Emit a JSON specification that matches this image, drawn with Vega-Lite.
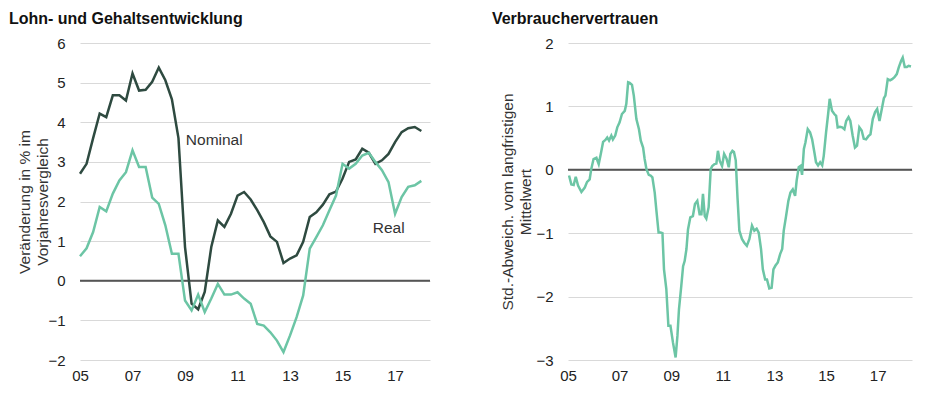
{
  "$schema": "https://vega.github.io/schema/vega-lite/v6.json",
  "padding": {"left": 8, "top": 11, "right": 0, "bottom": 0},
  "background": "white",
  "spacing": 60,
  "datasets": {
    "lohn": [
      {"t": 2005.00, "nominal": 2.7, "real": 0.62},
      {"t": 2005.25, "nominal": 2.95, "real": 0.82},
      {"t": 2005.50, "nominal": 3.6, "real": 1.23},
      {"t": 2005.75, "nominal": 4.22, "real": 1.86},
      {"t": 2006.00, "nominal": 4.13, "real": 1.75},
      {"t": 2006.25, "nominal": 4.68, "real": 2.2},
      {"t": 2006.50, "nominal": 4.68, "real": 2.53},
      {"t": 2006.75, "nominal": 4.55, "real": 2.74},
      {"t": 2007.00, "nominal": 5.23, "real": 3.29},
      {"t": 2007.25, "nominal": 4.8, "real": 2.87},
      {"t": 2007.50, "nominal": 4.82, "real": 2.87},
      {"t": 2007.75, "nominal": 5.02, "real": 2.1},
      {"t": 2008.00, "nominal": 5.38, "real": 1.94},
      {"t": 2008.25, "nominal": 5.06, "real": 1.4},
      {"t": 2008.50, "nominal": 4.58, "real": 0.68},
      {"t": 2008.75, "nominal": 3.6, "real": 0.68},
      {"t": 2009.00, "nominal": 0.85, "real": -0.5},
      {"t": 2009.25, "nominal": -0.58, "real": -0.75},
      {"t": 2009.50, "nominal": -0.72, "real": -0.35},
      {"t": 2009.75, "nominal": -0.28, "real": -0.79},
      {"t": 2010.00, "nominal": 0.85, "real": -0.45},
      {"t": 2010.25, "nominal": 1.52, "real": -0.08},
      {"t": 2010.50, "nominal": 1.36, "real": -0.35},
      {"t": 2010.75, "nominal": 1.69, "real": -0.35},
      {"t": 2011.00, "nominal": 2.15, "real": -0.29},
      {"t": 2011.25, "nominal": 2.24, "real": -0.45},
      {"t": 2011.50, "nominal": 2.05, "real": -0.58},
      {"t": 2011.75, "nominal": 1.78, "real": -1.09},
      {"t": 2012.00, "nominal": 1.48, "real": -1.13},
      {"t": 2012.25, "nominal": 1.12, "real": -1.3},
      {"t": 2012.50, "nominal": 0.98, "real": -1.51},
      {"t": 2012.75, "nominal": 0.45, "real": -1.8},
      {"t": 2013.00, "nominal": 0.56, "real": -1.38},
      {"t": 2013.25, "nominal": 0.64, "real": -0.92},
      {"t": 2013.50, "nominal": 0.98, "real": -0.37},
      {"t": 2013.75, "nominal": 1.61, "real": 0.81},
      {"t": 2014.00, "nominal": 1.73, "real": 1.1},
      {"t": 2014.25, "nominal": 1.92, "real": 1.4},
      {"t": 2014.50, "nominal": 2.18, "real": 1.78},
      {"t": 2014.75, "nominal": 2.25, "real": 2.15},
      {"t": 2015.00, "nominal": 2.58, "real": 2.95},
      {"t": 2015.25, "nominal": 3.0, "real": 2.83},
      {"t": 2015.50, "nominal": 3.06, "real": 2.95},
      {"t": 2015.75, "nominal": 3.33, "real": 3.16},
      {"t": 2016.00, "nominal": 3.23, "real": 3.23},
      {"t": 2016.25, "nominal": 2.95, "real": 3.0},
      {"t": 2016.50, "nominal": 3.04, "real": 2.79},
      {"t": 2016.75, "nominal": 3.2, "real": 2.49},
      {"t": 2017.00, "nominal": 3.5, "real": 1.69},
      {"t": 2017.25, "nominal": 3.75, "real": 2.11},
      {"t": 2017.50, "nominal": 3.85, "real": 2.37},
      {"t": 2017.75, "nominal": 3.88, "real": 2.41},
      {"t": 2018.00, "nominal": 3.78, "real": 2.52}
    ],
    "vertrauen": [
      {"t": 2005.04, "v": -0.09}, {"t": 2005.13, "v": -0.23}, {"t": 2005.22, "v": -0.24}, {"t": 2005.30, "v": -0.11},
      {"t": 2005.39, "v": -0.25}, {"t": 2005.52, "v": -0.35}, {"t": 2005.65, "v": -0.28}, {"t": 2005.74, "v": -0.19},
      {"t": 2005.84, "v": -0.15}, {"t": 2005.90, "v": 0.01}, {"t": 2005.99, "v": 0.17}, {"t": 2006.10, "v": 0.19},
      {"t": 2006.19, "v": 0.09}, {"t": 2006.27, "v": 0.25}, {"t": 2006.36, "v": 0.44}, {"t": 2006.45, "v": 0.47},
      {"t": 2006.52, "v": 0.51}, {"t": 2006.59, "v": 0.46}, {"t": 2006.68, "v": 0.54}, {"t": 2006.74, "v": 0.48},
      {"t": 2006.83, "v": 0.54}, {"t": 2006.91, "v": 0.67}, {"t": 2007.00, "v": 0.75}, {"t": 2007.09, "v": 0.88},
      {"t": 2007.20, "v": 0.93}, {"t": 2007.26, "v": 1.04}, {"t": 2007.33, "v": 1.38}, {"t": 2007.39, "v": 1.37},
      {"t": 2007.48, "v": 1.34}, {"t": 2007.55, "v": 1.17}, {"t": 2007.65, "v": 0.8}, {"t": 2007.75, "v": 0.64},
      {"t": 2007.82, "v": 0.46}, {"t": 2007.91, "v": 0.35}, {"t": 2007.97, "v": 0.17}, {"t": 2008.04, "v": 0.01},
      {"t": 2008.13, "v": -0.08}, {"t": 2008.20, "v": -0.09}, {"t": 2008.27, "v": -0.12}, {"t": 2008.36, "v": -0.36},
      {"t": 2008.42, "v": -0.62}, {"t": 2008.51, "v": -0.99}, {"t": 2008.59, "v": -0.99}, {"t": 2008.66, "v": -1.0},
      {"t": 2008.72, "v": -1.57}, {"t": 2008.81, "v": -1.88}, {"t": 2008.89, "v": -2.46}, {"t": 2008.97, "v": -2.46},
      {"t": 2009.07, "v": -2.73}, {"t": 2009.17, "v": -2.96}, {"t": 2009.24, "v": -2.62}, {"t": 2009.30, "v": -2.2},
      {"t": 2009.39, "v": -1.83}, {"t": 2009.46, "v": -1.52}, {"t": 2009.52, "v": -1.44}, {"t": 2009.59, "v": -1.25},
      {"t": 2009.65, "v": -0.94}, {"t": 2009.74, "v": -0.75}, {"t": 2009.84, "v": -0.73}, {"t": 2009.92, "v": -0.54},
      {"t": 2010.01, "v": -0.49}, {"t": 2010.10, "v": -0.7}, {"t": 2010.17, "v": -0.7}, {"t": 2010.23, "v": -0.38},
      {"t": 2010.30, "v": -0.73}, {"t": 2010.36, "v": -0.77}, {"t": 2010.45, "v": -0.59}, {"t": 2010.53, "v": 0.01},
      {"t": 2010.59, "v": 0.06}, {"t": 2010.68, "v": 0.09}, {"t": 2010.75, "v": 0.1}, {"t": 2010.81, "v": 0.3},
      {"t": 2010.88, "v": 0.14}, {"t": 2010.97, "v": 0.06}, {"t": 2011.05, "v": 0.25}, {"t": 2011.14, "v": 0.18},
      {"t": 2011.23, "v": 0.04}, {"t": 2011.29, "v": 0.25}, {"t": 2011.37, "v": 0.3}, {"t": 2011.43, "v": 0.28},
      {"t": 2011.50, "v": 0.15}, {"t": 2011.57, "v": -0.45}, {"t": 2011.64, "v": -0.96}, {"t": 2011.74, "v": -1.09},
      {"t": 2011.83, "v": -1.15}, {"t": 2011.93, "v": -1.2}, {"t": 2012.03, "v": -1.09}, {"t": 2012.13, "v": -0.88},
      {"t": 2012.22, "v": -0.96}, {"t": 2012.31, "v": -0.93}, {"t": 2012.39, "v": -0.99}, {"t": 2012.48, "v": -1.25},
      {"t": 2012.55, "v": -1.57}, {"t": 2012.64, "v": -1.73}, {"t": 2012.71, "v": -1.73}, {"t": 2012.80, "v": -1.87},
      {"t": 2012.89, "v": -1.86}, {"t": 2012.96, "v": -1.57}, {"t": 2013.04, "v": -1.51}, {"t": 2013.13, "v": -1.46},
      {"t": 2013.22, "v": -1.33}, {"t": 2013.30, "v": -1.25}, {"t": 2013.36, "v": -0.96}, {"t": 2013.45, "v": -0.73},
      {"t": 2013.54, "v": -0.49}, {"t": 2013.62, "v": -0.36}, {"t": 2013.71, "v": -0.31}, {"t": 2013.80, "v": -0.41},
      {"t": 2013.86, "v": -0.17}, {"t": 2013.94, "v": 0.04}, {"t": 2014.01, "v": 0.06}, {"t": 2014.07, "v": -0.08},
      {"t": 2014.14, "v": 0.33}, {"t": 2014.20, "v": 0.43}, {"t": 2014.29, "v": 0.64}, {"t": 2014.38, "v": 0.59},
      {"t": 2014.46, "v": 0.48}, {"t": 2014.55, "v": 0.27}, {"t": 2014.61, "v": 0.12}, {"t": 2014.69, "v": 0.07},
      {"t": 2014.77, "v": 0.12}, {"t": 2014.85, "v": 0.07}, {"t": 2014.91, "v": 0.22}, {"t": 2015.00, "v": 0.59},
      {"t": 2015.08, "v": 0.88}, {"t": 2015.14, "v": 1.12}, {"t": 2015.23, "v": 0.93}, {"t": 2015.32, "v": 0.88},
      {"t": 2015.39, "v": 0.85}, {"t": 2015.45, "v": 0.67}, {"t": 2015.54, "v": 0.68}, {"t": 2015.62, "v": 0.67},
      {"t": 2015.71, "v": 0.64}, {"t": 2015.78, "v": 0.77}, {"t": 2015.87, "v": 0.83}, {"t": 2015.94, "v": 0.77},
      {"t": 2016.03, "v": 0.54}, {"t": 2016.12, "v": 0.35}, {"t": 2016.20, "v": 0.38}, {"t": 2016.29, "v": 0.67},
      {"t": 2016.38, "v": 0.62}, {"t": 2016.46, "v": 0.49}, {"t": 2016.55, "v": 0.48}, {"t": 2016.64, "v": 0.53},
      {"t": 2016.72, "v": 0.56}, {"t": 2016.81, "v": 0.8}, {"t": 2016.90, "v": 0.91}, {"t": 2016.98, "v": 0.96},
      {"t": 2017.07, "v": 0.77}, {"t": 2017.16, "v": 0.96}, {"t": 2017.24, "v": 1.13}, {"t": 2017.30, "v": 1.17},
      {"t": 2017.39, "v": 1.43}, {"t": 2017.48, "v": 1.41}, {"t": 2017.56, "v": 1.43}, {"t": 2017.65, "v": 1.46},
      {"t": 2017.74, "v": 1.51}, {"t": 2017.82, "v": 1.62}, {"t": 2017.91, "v": 1.72}, {"t": 2017.97, "v": 1.77},
      {"t": 2018.05, "v": 1.62}, {"t": 2018.13, "v": 1.62}, {"t": 2018.20, "v": 1.64}, {"t": 2018.29, "v": 1.63}
    ]
  },
  "hconcat": [
    {
      "title": {"text": "Lohn- und Gehaltsentwicklung", "dx": -9, "offset": 9},
      "width": 350,
      "height": 317,
      "layer": [
        {
          "data": {"values": [{}]},
          "mark": {"type": "rule", "color": "#555555", "strokeWidth": 2},
          "encoding": {"y": {"datum": 0, "type": "quantitative",
                  "axis": {"values": [-2, -1, 0, 1, 2, 3, 4, 5, 6], "format": "d", "titlePadding": -3, "title": ["Veränderung in % im", "Vorjahresvergleich"]}}}
        },
        {
          "data": {"name": "lohn"},
          "mark": {"type": "line", "color": "#2e4a40", "strokeWidth": 2.5},
          "encoding": {
            "x": {"field": "t", "type": "quantitative", "scale": {"domain": [2005, 2018.33], "nice": false, "zero": false},
                  "axis": {"values": [2005, 2007, 2009, 2011, 2013, 2015, 2017], "labelExpr": "substring(toString(datum.value), 2, 4)", "title": null}},
            "y": {"field": "nominal", "type": "quantitative", "scale": {"domain": [-2, 6], "nice": false},
                  "axis": {"values": [-2, -1, 0, 1, 2, 3, 4, 5, 6], "format": "d", "titlePadding": -3, "title": ["Veränderung in % im", "Vorjahresvergleich"]}}
          }
        },
        {
          "data": {"name": "lohn"},
          "mark": {"type": "line", "color": "#6cc5a5", "strokeWidth": 2.5},
          "encoding": {
            "x": {"field": "t", "type": "quantitative",
                  "axis": {"values": [2005, 2007, 2009, 2011, 2013, 2015, 2017], "labelExpr": "substring(toString(datum.value), 2, 4)", "title": null}},
            "y": {"field": "real", "type": "quantitative",
                  "axis": {"values": [-2, -1, 0, 1, 2, 3, 4, 5, 6], "format": "d", "titlePadding": -3, "title": ["Veränderung in % im", "Vorjahresvergleich"]}}
          }
        },
        {
          "data": {"values": [{}]},
          "mark": {"type": "text", "align": "left", "baseline": "middle", "fontSize": 15.5, "color": "#333333", "font": "Liberation Sans"},
          "encoding": {
            "x": {"datum": 2009.03, "type": "quantitative",
                  "axis": {"values": [2005, 2007, 2009, 2011, 2013, 2015, 2017], "labelExpr": "substring(toString(datum.value), 2, 4)", "title": null}},
            "y": {"datum": 3.56, "type": "quantitative",
                  "axis": {"values": [-2, -1, 0, 1, 2, 3, 4, 5, 6], "format": "d", "titlePadding": -3, "title": ["Veränderung in % im", "Vorjahresvergleich"]}},
            "text": {"value": "Nominal"}}
        },
        {
          "data": {"values": [{}]},
          "mark": {"type": "text", "align": "left", "baseline": "middle", "fontSize": 15.5, "color": "#333333", "font": "Liberation Sans"},
          "encoding": {
            "x": {"datum": 2016.15, "type": "quantitative",
                  "axis": {"values": [2005, 2007, 2009, 2011, 2013, 2015, 2017], "labelExpr": "substring(toString(datum.value), 2, 4)", "title": null}},
            "y": {"datum": 1.32, "type": "quantitative",
                  "axis": {"values": [-2, -1, 0, 1, 2, 3, 4, 5, 6], "format": "d", "titlePadding": -3, "title": ["Veränderung in % im", "Vorjahresvergleich"]}},
            "text": {"value": "Real"}}
        }
      ]
    },
    {
      "title": {"text": "Verbrauchervertrauen", "dx": -9, "offset": 9},
      "width": 344,
      "height": 317,
      "layer": [
        {
          "data": {"values": [{}]},
          "mark": {"type": "rule", "color": "#555555", "strokeWidth": 2},
          "encoding": {"y": {"datum": 0, "type": "quantitative",
                  "axis": {"values": [-3, -2, -1, 0, 1, 2], "format": "d", "titlePadding": 2, "title": ["Std.-Abweich. vom langfristigen", "Mittelwert"]}}}
        },
        {
          "data": {"name": "vertrauen"},
          "mark": {"type": "line", "color": "#6cc5a5", "strokeWidth": 2.5},
          "encoding": {
            "x": {"field": "t", "type": "quantitative", "scale": {"domain": [2005, 2018.33], "nice": false, "zero": false},
                  "axis": {"values": [2005, 2007, 2009, 2011, 2013, 2015, 2017], "labelExpr": "substring(toString(datum.value), 2, 4)", "title": null}},
            "y": {"field": "v", "type": "quantitative", "scale": {"domain": [-3, 2], "nice": false},
                  "axis": {"values": [-3, -2, -1, 0, 1, 2], "format": "d", "titlePadding": 2, "title": ["Std.-Abweich. vom langfristigen", "Mittelwert"]}}
          }
        }
      ]
    }
  ],
  "config": {
    "view": {"stroke": null},
    "font": "Liberation Sans",
    "axis": {
      "labelFont": "Liberation Sans", "labelFontSize": 15, "labelColor": "#222222",
      "titleFont": "Liberation Sans", "titleFontSize": 15.5, "titleFontWeight": "normal", "titleColor": "#333333", "titleLineHeight": 18,
      "domain": false, "ticks": false, "grid": false, "labelOverlap": false
    },
    "axisY": {"grid": true, "gridColor": "#d9d9d9", "gridWidth": 1.2, "labelPadding": 15},
    "axisX": {"labelPadding": 8, "labelFlush": false},
    "title": {"font": "Liberation Sans", "fontSize": 16, "fontWeight": "bold", "color": "#111111", "anchor": "start", "frame": "bounds"}
  }
}
